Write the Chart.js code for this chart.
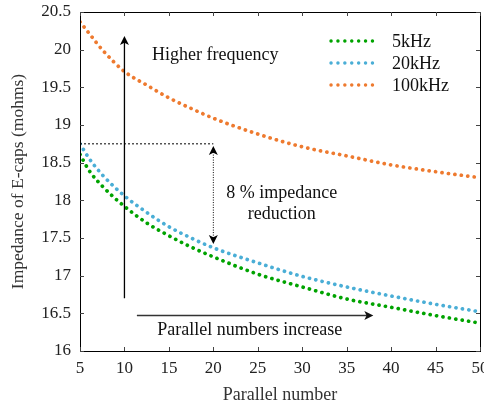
<!DOCTYPE html>
<html>
<head>
<meta charset="utf-8">
<script src="https://cdn.jsdelivr.net/npm/chart.js@4.4.1/dist/chart.umd.min.js"></script>
<style>
  html, body { margin: 0; padding: 0; background: #fff; overflow: hidden; }
  #wrap { width: 490px; height: 407px; }
</style>
</head>
<body>
<div id="wrap"><canvas id="myChart" width="490" height="407"></canvas></div>
<script>
// parallel number (x) and impedance readings in mohms
const parallel = [5, 6, 7.5, 10, 12.5, 15, 17.5, 20, 25, 30, 35, 40, 45, 50];
const z5k = [18.61, 18.40, 18.19, 17.92, 17.70, 17.53, 17.38, 17.25, 17.02, 16.85, 16.69, 16.58, 16.47, 16.37];
const z20k = [18.75, 18.56, 18.34, 18.06, 17.84, 17.65, 17.50, 17.37, 17.17, 16.99, 16.85, 16.73, 16.62, 16.52];
const z100k = [20.37, 20.22, 20.00, 19.71, 19.53, 19.36, 19.22, 19.09, 18.88, 18.71, 18.59, 18.47, 18.38, 18.30];
const seriesLabels = ['5kHz', '20kHz', '100kHz'];
const seriesColors = ['#00a300', '#4aaed6', '#ee7a2f'];

const FONT = '"Liberation Serif", "Times New Roman", serif';

function pts(ys) {
  return parallel.map((x, i) => ({ x, y: ys[i] }));
}

function dotted(label, color, ys) {
  return {
    label,
    data: pts(ys),
    borderColor: color,
    backgroundColor: color,
    borderWidth: 3.7,
    borderDash: [0.1, 6.4],
    borderCapStyle: 'round',
    pointRadius: 0,
    cubicInterpolationMode: 'monotone',
    fill: false,
  };
}

function arrowHead(ctx, x, y, angle, len, half) {
  ctx.save();
  ctx.translate(x, y);
  ctx.rotate(angle);
  ctx.setLineDash([]);
  ctx.beginPath();
  ctx.moveTo(0, 0);
  ctx.lineTo(-len, -half);
  ctx.lineTo(-len * 0.75, 0);
  ctx.lineTo(-len, half);
  ctx.closePath();
  ctx.fill();
  ctx.restore();
}

const decor = {
  id: 'decor',
  afterDraw(chart) {
    const { ctx, chartArea: a, scales } = chart;
    const xs = scales.x, ys = scales.y;
    const X = v => xs.getPixelForValue(v);
    const Y = v => ys.getPixelForValue(v);
    ctx.save();

    // frame
    ctx.strokeStyle = '#000';
    ctx.lineWidth = 1;
    ctx.setLineDash([]);
    ctx.strokeRect(Math.round(a.left) + 0.5, Math.round(a.top) + 0.5,
      Math.round(a.right - a.left), Math.round(a.bottom - a.top));

    // inward ticks on all four sides
    ctx.strokeStyle = '#444';
    ctx.beginPath();
    xs.ticks.forEach(t => {
      const px = Math.round(X(t.value)) + 0.5;
      ctx.moveTo(px, a.bottom); ctx.lineTo(px, a.bottom - 4);
      ctx.moveTo(px, a.top); ctx.lineTo(px, a.top + 4);
    });
    ys.ticks.forEach(t => {
      const py = Math.round(Y(t.value)) + 0.5;
      ctx.moveTo(a.left, py); ctx.lineTo(a.left + 4, py);
      ctx.moveTo(a.right, py); ctx.lineTo(a.right - 4, py);
    });
    ctx.stroke();

    // legend (top right)
    ctx.font = '18px ' + FONT;
    ctx.textBaseline = 'middle';
    ctx.textAlign = 'left';
    seriesLabels.forEach((lab, i) => {
      const ly = a.top + 29 + i * 22;
      ctx.strokeStyle = seriesColors[i];
      ctx.lineWidth = 3.4;
      ctx.lineCap = 'round';
      ctx.setLineDash([0.1, 6.8]);
      ctx.beginPath();
      ctx.moveTo(a.right - 149, ly);
      ctx.lineTo(a.right - 101, ly);
      ctx.stroke();
      ctx.fillStyle = '#111';
      ctx.fillText(lab, a.right - 88, ly + 1);
    });
    ctx.lineCap = 'butt';

    // "Higher frequency" arrow at x = 10
    ctx.strokeStyle = '#000';
    ctx.fillStyle = '#000';
    ctx.lineWidth = 1.3;
    ctx.setLineDash([]);
    ctx.beginPath();
    ctx.moveTo(X(10), Y(16.7));
    ctx.lineTo(X(10), Y(20.18) + 6);
    ctx.stroke();
    arrowHead(ctx, X(10), Y(20.18), -Math.PI / 2, 9, 4.5);

    // dashed reference at 18.75
    ctx.lineWidth = 1;
    ctx.setLineDash([2, 2]);
    ctx.beginPath();
    ctx.moveTo(X(5), Y(18.75));
    ctx.lineTo(X(20), Y(18.75));
    ctx.stroke();

    // dotted double arrow at x = 20
    ctx.setLineDash([1, 1.5]);
    ctx.beginPath();
    ctx.moveTo(X(20), Y(18.72) + 6);
    ctx.lineTo(X(20), Y(17.42) - 6);
    ctx.stroke();
    arrowHead(ctx, X(20), Y(18.72), -Math.PI / 2, 9, 4.5);
    arrowHead(ctx, X(20), Y(17.42), Math.PI / 2, 9, 4.5);

    // "Parallel numbers increase" arrow
    ctx.strokeStyle = '#333';
    ctx.fillStyle = '#111';
    ctx.lineWidth = 1.5;
    ctx.setLineDash([]);
    ctx.beginPath();
    ctx.moveTo(X(11.4), Y(16.47));
    ctx.lineTo(X(38) - 6, Y(16.47));
    ctx.stroke();
    arrowHead(ctx, X(38), Y(16.47), 0, 9, 4.5);

    // annotation texts
    ctx.fillStyle = '#111';
    ctx.font = '18px ' + FONT;
    ctx.textAlign = 'left';
    ctx.fillText('Higher frequency', X(13.1), Y(19.93));
    ctx.textAlign = 'center';
    ctx.fillText('8 % impedance', X(27.7), Y(18.1));
    ctx.fillText('reduction', X(27.7), Y(17.81));
    ctx.fillText('Parallel numbers increase', X(24.1), Y(16.28));

    ctx.restore();
  }
};

new Chart(document.getElementById('myChart').getContext('2d'), {
  type: 'line',
  data: {
    datasets: [
      dotted(seriesLabels[0], seriesColors[0], z5k),
      dotted(seriesLabels[1], seriesColors[1], z20k),
      dotted(seriesLabels[2], seriesColors[2], z100k),
    ],
  },
  options: {
    responsive: false,
    animation: false,
    layout: { padding: { top: 12, right: 10, left: 0, bottom: 0 } },
    plugins: {
      legend: { display: false },
      tooltip: { enabled: false },
    },
    scales: {
      x: {
        type: 'linear',
        min: 5,
        max: 50,
        afterFit(scale) {
          scale.height = 56;
          scale.paddingLeft = 0;
          scale.paddingRight = 0;
        },
        grid: { display: false, drawTicks: false },
        border: { display: false },
        ticks: {
          stepSize: 5,
          padding: 7,
          color: '#222',
          font: { family: FONT, size: 17 },
          maxRotation: 0,
          autoSkip: false,
        },
        title: {
          display: true,
          text: 'Parallel number',
          color: '#333',
          font: { family: FONT, size: 18 },
          padding: { top: 0, bottom: 1 },
        },
      },
      y: {
        min: 16,
        max: 20.5,
        afterFit(scale) {
          scale.width = 80;
          scale.paddingTop = 0;
          scale.paddingBottom = 0;
        },
        grid: { display: false, drawTicks: false },
        border: { display: false },
        ticks: {
          stepSize: 0.5,
          padding: 9,
          color: '#222',
          font: { family: FONT, size: 17 },
          autoSkip: false,
          callback: v => String(v),
        },
        title: {
          display: true,
          text: 'Impedance of E-caps (mohms)',
          color: '#333',
          font: { family: FONT, size: 17.5 },
          padding: { top: 8, bottom: 0 },
        },
      },
    },
  },
  plugins: [decor],
});
</script>
</body>
</html>
